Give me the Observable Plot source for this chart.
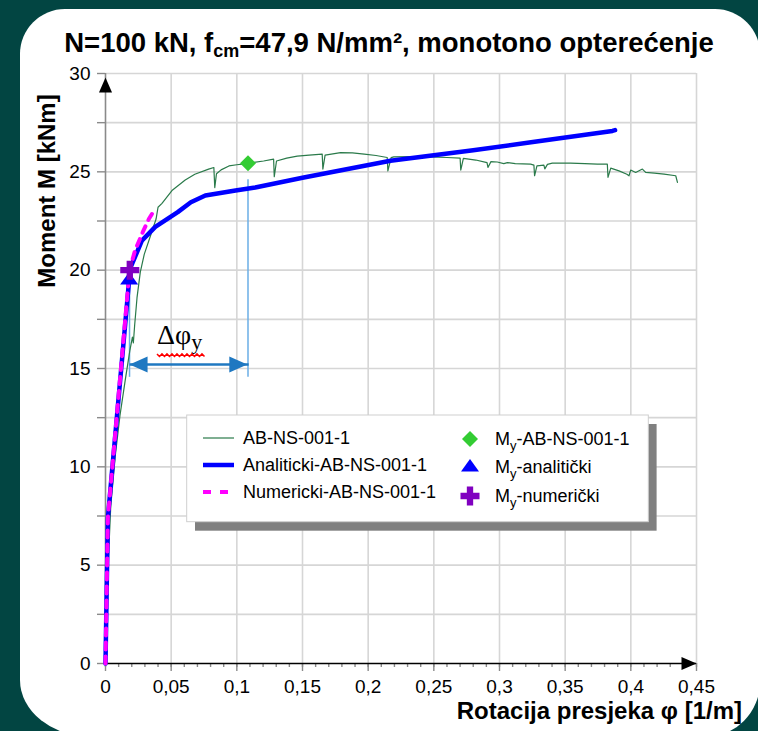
<!DOCTYPE html>
<html><head><meta charset="utf-8">
<script src="https://cdn.jsdelivr.net/npm/d3@7"></script>
<script src="https://cdn.jsdelivr.net/npm/@observablehq/plot@0.6"></script>
<style>
html,body{margin:0;padding:0;background:#024542;}
#wrap{position:relative;width:758px;height:731px;overflow:hidden;background:#024542;}
#panel{position:absolute;left:20px;top:9px;width:740px;height:728px;background:#fff;
  border-radius:45px 45px 55px 72px / 45px 45px 55px 57px;}
#chart{position:absolute;left:0;top:0;}
</style></head><body>
<div id="wrap"><div id="panel"></div><div id="chart"></div></div>
<script>
// ---------- data ----------
const xTickValues = [0,0.05,0.1,0.15,0.2,0.25,0.3,0.35,0.4,0.45];
const xTickLabels = ["0","0,05","0,1","0,15","0,2","0,25","0,3","0,35","0,4","0,45"];
const yTickValues = [0,5,10,15,20,25,30];
const yTickLabels = ["0","5","10","15","20","25","30"];

// AB-NS-001-1 (experiment)
const expPhi = [0,0.002,0.004,0.0075,0.011,0.015,0.0185,0.0205,0.0212,0.0222,0.024,0.0265,0.0295,0.034,0.0385,0.040,0.043,0.0506,0.0607,0.068,0.0785,0.0825,0.0832,0.0845,0.088,0.094,0.1,0.104,0.1085,0.1204,0.128,0.1285,0.1302,0.138,0.146,0.155,0.165,0.1655,0.1672,0.179,0.188,0.197,0.206,0.2145,0.215,0.2175,0.2195,0.235,0.2475,0.26,0.27,0.2705,0.2725,0.282,0.2905,0.2912,0.2935,0.2983,0.3033,0.306,0.312,0.3237,0.3262,0.3267,0.3285,0.3338,0.3345,0.3365,0.3402,0.354,0.365,0.3745,0.3821,0.3826,0.3847,0.391,0.397,0.3986,0.3999,0.4037,0.4088,0.4113,0.418,0.4253,0.4342,0.4355];
const expM   = [0,5.0,8.0,10.6,12.6,14.4,15.9,16.6,16.3,17.2,18.6,19.9,20.8,21.7,22.6,23.2,23.4,24.05,24.58,24.88,25.14,25.22,24.2,24.9,25.1,25.3,25.36,25.39,25.44,25.55,25.65,24.75,25.55,25.7,25.8,25.85,25.9,25.14,25.85,25.98,25.96,25.9,25.83,25.73,25.05,25.72,25.76,25.77,25.76,25.73,25.7,25.09,25.68,25.6,25.47,25.22,25.52,25.5,25.42,25.47,25.42,25.39,25.34,24.8,25.3,25.34,25.15,25.38,25.44,25.44,25.42,25.39,25.39,24.72,25.19,25.05,24.88,24.8,25.09,24.97,25.14,24.97,24.93,24.88,24.8,24.46];

// Analiticki-AB-NS-001-1
const anaPhi = [0,0.0018,0.018,0.0195,0.0277,0.0379,0.055,0.065,0.076,0.099,0.114,0.15,0.217,0.28,0.324,0.386,0.388];
const anaM   = [0,7.4,19.5,20.2,21.5,22.2,22.95,23.45,23.8,24.05,24.2,24.7,25.56,26.1,26.5,27.08,27.12];

// Numericki-AB-NS-001-1
const numPhi = [0,0.0018,0.0183,0.0225,0.0288,0.033,0.0362];
const numM   = [0,7.4,20.0,21.0,22.0,22.6,22.95];

// yield points
const yieldNames = ["My-AB-NS-001-1","My-analitički","My-numerički"];
const yieldPhi = [0.1085,0.018,0.0185];
const yieldM   = [25.44,19.5,20.0];

const seriesNames = ["AB-NS-001-1","Analiticki-AB-NS-001-1","Numericki-AB-NS-001-1"];

// Δφy annotation levels
const dphiArrowM = 15.2;
const dphiLineBottom = 14.55;
const dphiLineTops = [19.3, 24.6];

// ---------- build ----------
const font = "'Liberation Sans', Arial, Helvetica, sans-serif";
const zip = (xs, ys) => xs.map((x,i)=>({x, y: ys[i]}));
const exp = zip(expPhi, expM), ana = zip(anaPhi, anaM), num = zip(numPhi, numM);
const gridY = d3.range(2.5, 30.001, 2.5);
const minorX = d3.range(0, 0.4501, 0.01);
const fmtX = d => { const i = xTickValues.findIndex(v => Math.abs(v-d) < 1e-9); return i >= 0 ? xTickLabels[i] : ""; };
const fmtY = d => { const i = yTickValues.findIndex(v => Math.abs(v-d) < 1e-9); return i >= 0 ? yTickLabels[i] : ""; };

const arrowUp = {draw(c){ c.moveTo(0,0); c.lineTo(6.5,15); c.lineTo(-6.5,15); c.closePath(); }};
const headUp  = {draw(c){ c.moveTo(0,0); c.lineTo(8,18); c.lineTo(-8,18); c.closePath(); }};
const triMark = {draw(c){ c.moveTo(0,-8); c.lineTo(9,4.5); c.lineTo(-9,4.5); c.closePath(); }};

const colExp = "#2a7a4a", colAna = "#0000ff", colNum = "#ff00ff";
const colDia = "#33cc33", colTri = "#0000ff", colPlus = "#8000c0";
const colAnn = "#1f78c1", colVl = "#6aaee6";

const dphiX1 = yieldPhi[1] + 0.0003, dphiX2 = yieldPhi[0] + 0.0005;

const plot = Plot.plot({
  width: 758, height: 731,
  marginLeft: 105, marginRight: 62, marginTop: 73, marginBottom: 68,
  style: {background: "transparent", fontFamily: font, fontSize: "19px", color: "#000", overflow: "visible"},
  x: {domain: [0, 0.45]},
  y: {domain: [0, 30]},
  marks: [
    Plot.ruleX(xTickValues.slice(1), {stroke: "#d6d6d6", strokeWidth: 1.6}),
    Plot.ruleY(gridY, {stroke: "#d6d6d6", strokeWidth: 1.6}),
    Plot.axisX({ticks: minorX, tickSize: 4, tickFormat: () => "", stroke: "#8a8a8a", strokeWidth: 1.4, label: null}),
    Plot.axisX({ticks: xTickValues, tickSize: 8, tickPadding: 8, tickFormat: fmtX, stroke: "#8a8a8a", strokeWidth: 1.4, label: null, fill: "#000"}),
    Plot.axisY({ticks: [0].concat(gridY), tickSize: 8, tickPadding: 7, tickFormat: fmtY, stroke: "#8a8a8a", strokeWidth: 1.4, label: null, fill: "#000"}),
    Plot.ruleX([0], {stroke: "#8a8a8a", strokeWidth: 1.6}),
    Plot.ruleY([0], {stroke: "#000", strokeWidth: 1.5}),
    Plot.dot([{x: 0, y: 30}], {x: "x", y: "y", symbol: arrowUp, fill: "#000", stroke: "none", dy: 4}),
    Plot.dot([{x: 0.45, y: 0}], {x: "x", y: "y", symbol: arrowUp, fill: "#000", stroke: "none", rotate: 90}),
    // Δφy annotation
    Plot.ruleX([{x: yieldPhi[1] + 0.0003, y1: dphiLineBottom, y2: dphiLineTops[0]}, {x: yieldPhi[0], y1: dphiLineBottom, y2: dphiLineTops[1]}],
      {x: "x", y1: "y1", y2: "y2", stroke: colVl, strokeWidth: 1.5}),
    Plot.link([{x1: dphiX1, x2: dphiX2, y: dphiArrowM}], {x1: "x1", x2: "x2", y1: "y", y2: "y", stroke: colAnn, strokeWidth: 2.5}),
    Plot.dot([{x: dphiX1, y: dphiArrowM}], {x: "x", y: "y", symbol: headUp, fill: colAnn, stroke: "none", rotate: -90}),
    Plot.dot([{x: yieldPhi[0] - 0.0005, y: dphiArrowM}], {x: "x", y: "y", symbol: headUp, fill: colAnn, stroke: "none", rotate: 90}),
    Plot.text([{x: 0.0392, y: 16.25}], {x: "x", y: "y", text: () => "Δφ", textAnchor: "start", lineAnchor: "bottom",
      fontFamily: "'Liberation Serif', 'Times New Roman', serif", fontSize: 28, fill: "#000"}),
    // curves
    Plot.line(exp, {x: "x", y: "y", stroke: colExp, strokeWidth: 1.2}),
    Plot.line(ana, {x: "x", y: "y", stroke: colAna, strokeWidth: 4.5, strokeLinejoin: "round", strokeLinecap: "round"}),
    Plot.line(num, {x: "x", y: "y", stroke: colNum, strokeWidth: 4, strokeDasharray: "7,7"}),
    // yield markers
    Plot.dot([{x: yieldPhi[0], y: yieldM[0]}], {x: "x", y: "y", symbol: "diamond2", r: 7.2, fill: colDia, stroke: "none"}),
    Plot.dot([{x: yieldPhi[1], y: yieldM[1]}], {x: "x", y: "y", symbol: triMark, fill: colTri, stroke: "none"}),
    Plot.dot([{x: yieldPhi[2], y: yieldM[2]}], {x: "x", y: "y", symbol: "cross", r: 8, fill: colPlus, stroke: "none"})
  ]
});
document.getElementById("chart").appendChild(plot);

const svg = d3.select(plot);

// subscript y on Δφ + red wavy underline
svg.selectAll("text").filter(function(){ return this.textContent === "Δφ"; }).each(function(){
  d3.select(this).append("tspan").attr("dy", 5).attr("font-size", 22).text("y");
  const b = this.getBBox();
  const y0 = b.y + b.height, x0 = b.x, x1 = b.x + b.width;
  let p = `M${x0},${y0}`;
  for (let x = x0, k = 0; x < x1; x += 2.5, k++) p += `L${x + 2.5},${y0 + (k % 2 ? 0 : 2.5)}`;
  d3.select(this.parentNode).append("path").attr("d", p).attr("fill", "none").attr("stroke", "#ff0000").attr("stroke-width", 1.5)
    .attr("transform", this.getAttribute("transform"));
});

// title
const t = svg.append("text").attr("x", 389).attr("y", 52).attr("text-anchor", "middle")
  .attr("font-family", font).attr("font-weight", "bold").attr("font-size", 27.5).attr("fill", "#000");
t.append("tspan").text("N=100 kN, f");
t.append("tspan").attr("font-size", 18).attr("dy", 5).text("cm");
t.append("tspan").attr("dy", -5).text("=47,9 N/mm², monotono opterećenje");

// axis labels
svg.append("text").attr("transform", "translate(55,191) rotate(-90)").attr("text-anchor", "middle")
  .attr("font-family", font).attr("font-weight", "bold").attr("font-size", 24).attr("fill", "#000")
  .text("Moment M [kNm]");
svg.append("text").attr("x", 742).attr("y", 719).attr("text-anchor", "end")
  .attr("font-family", font).attr("font-weight", "bold").attr("font-size", 24).attr("fill", "#000")
  .text("Rotacija presjeka φ [1/m]");

// legend
const L = svg.append("g").attr("font-family", font).attr("font-size", 18).attr("fill", "#000").attr("text-anchor", "start");
L.append("rect").attr("x", 195).attr("y", 424).attr("width", 461.6).attr("height", 106.7).attr("fill", "#808080");
L.append("rect").attr("x", 186.7).attr("y", 415).attr("width", 461.6).attr("height", 106.7).attr("fill", "#fff").attr("stroke", "#cfcfcf");
const rowsL = [438, 465, 492];
const lineStyles = [{c: colExp, w: 1.2, d: null}, {c: colAna, w: 4.5, d: null}, {c: colNum, w: 4, d: "8,9"}];
seriesNames.forEach((name, i) => {
  const s = lineStyles[i];
  L.append("line").attr("x1", 203).attr("x2", 234).attr("y1", rowsL[i]).attr("y2", rowsL[i])
    .attr("stroke", s.c).attr("stroke-width", s.w).attr("stroke-dasharray", s.d);
  L.append("text").attr("x", 243).attr("y", rowsL[i]).attr("dy", "0.36em").text(name);
});
const rowsR = [439, 467, 496];
const legSyms = [
  d3.symbol(d3.symbolDiamond2, 163)(), null, d3.symbol(d3.symbolCross, 201)()
];
const symCols = [colDia, colTri, colPlus];
yieldNames.forEach((name, i) => {
  if (i === 1) {
    L.append("path").attr("d", "M0,-8L9,4.5L-9,4.5Z").attr("transform", `translate(470,${rowsR[i]})`).attr("fill", symCols[i]);
  } else {
    L.append("path").attr("d", legSyms[i]).attr("transform", `translate(470,${rowsR[i]})`).attr("fill", symCols[i]);
  }
  const tx = L.append("text").attr("x", 495).attr("y", rowsR[i]).attr("dy", "0.36em");
  tx.append("tspan").text(name.slice(0, 1));
  tx.append("tspan").attr("font-size", 13).attr("dy", 5).text(name.slice(1, 2));
  tx.append("tspan").attr("dy", -5).text(name.slice(2));
});
</script></body></html>
